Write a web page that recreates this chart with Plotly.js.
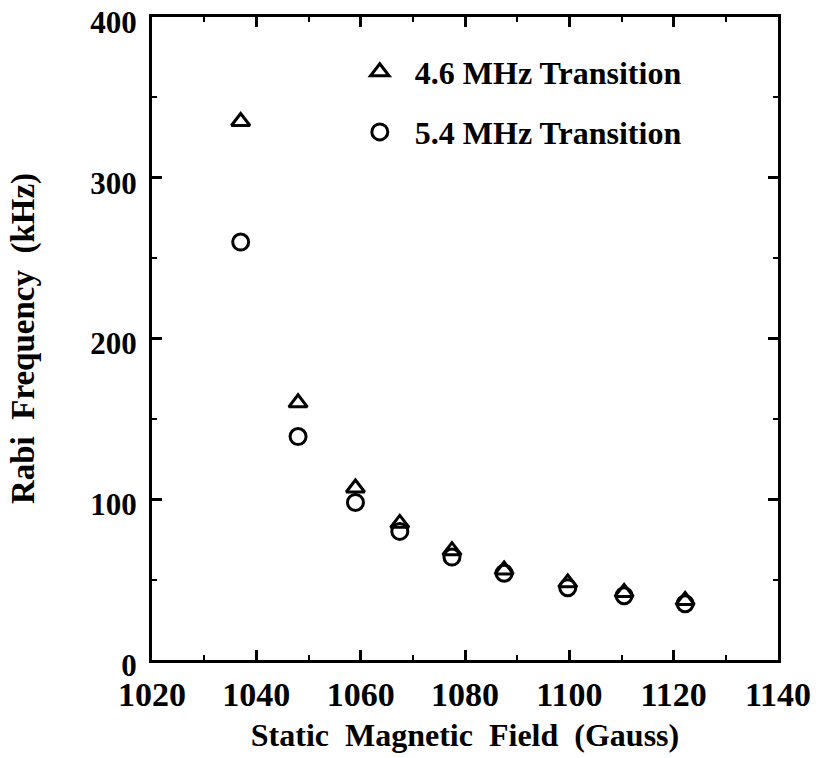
<!DOCTYPE html>
<html>
<head>
<meta charset="utf-8">
<script src="https://cdn.plot.ly/plotly-3.0.1.min.js"></script>
<style>html,body{margin:0;padding:0;background:#fff;}#chart{width:819px;height:758px;}</style>
</head>
<body>
<div id="chart"></div>
<script>
// Static magnetic field (Gauss)
var fieldGauss = [1037, 1048, 1059, 1067.5, 1077.5, 1087.5, 1099.7, 1110.5, 1122.2];
// Rabi frequency (kHz)
var rabi46 = [335, 160, 107, 85, 68, 56, 48, 42, 37];
var rabi54 = [260, 139, 98, 80, 64, 54, 45, 40, 35];
var seriesNames = ['4.6 MHz Transition', '5.4 MHz Transition'];

var FONT = 'Liberation Serif, Times New Roman, serif';

var traces = [
  {
    x: fieldGauss, y: rabi46, name: seriesNames[0], type: 'scatter', mode: 'markers',
    marker: {symbol: 'triangle-up-open', size: 16, color: '#000', line: {width: 3, color: '#000'}},
    legend: 'legend'
  },
  {
    x: fieldGauss, y: rabi54, name: seriesNames[1], type: 'scatter', mode: 'markers',
    marker: {symbol: 'circle-open', size: 16, color: '#000', line: {width: 3, color: '#000'}},
    legend: 'legend2'
  }
];

var axisCommon = {
  showline: true, mirror: 'ticks', linewidth: 3, linecolor: '#000',
  ticks: 'inside', ticklen: 10, tickwidth: 3, tickcolor: '#000',
  showgrid: false, zeroline: false, ticklabeloverflow: 'allow'
};

var layout = {
  width: 819, height: 758,
  margin: {l: 152, r: 41, t: 17, b: 98},
  paper_bgcolor: '#fff', plot_bgcolor: '#fff',
  font: {family: FONT, color: '#000'},
  xaxis: Object.assign({}, axisCommon, {
    range: [1020, 1140], dtick: 20, tick0: 1020,
    minor: {dtick: 10, ticks: 'inside', ticklen: 5, tickwidth: 2, tickcolor: '#000'},
    tickfont: {family: FONT, size: 34, weight: 'bold', color: '#000'},
    ticklabelstandoff: 2,
    title: {text: 'Static\u00a0\u00a0Magnetic\u00a0\u00a0Field\u00a0\u00a0(Gauss)', font: {family: FONT, size: 32, weight: 'bold', color: '#000'}, standoff: 12}
  }),
  yaxis: Object.assign({}, axisCommon, {
    range: [0, 400], dtick: 100, tick0: 0,
    minor: {dtick: 50, ticks: 'inside', ticklen: 5, tickwidth: 2, tickcolor: '#000'},
    tickfont: {family: FONT, size: 31, weight: 'bold', color: '#000'},
    ticklabelstandoff: 6,
    ticklabelshift: 5,
    title: {text: 'Rabi\u00a0\u00a0Frequency\u00a0\u00a0(kHz)', font: {family: FONT, size: 33, weight: 'bold', color: '#000'}, standoff: 46}
  }),
  showlegend: true,
  legend: {
    x: 0.308, y: 0.9145, xanchor: 'left', yanchor: 'middle',
    bgcolor: 'rgba(0,0,0,0)', borderwidth: 0,
    font: {family: FONT, size: 32, weight: 'bold', color: '#000'},
    itemwidth: 60
  },
  legend2: {
    x: 0.308, y: 0.821, xanchor: 'left', yanchor: 'middle',
    bgcolor: 'rgba(0,0,0,0)', borderwidth: 0,
    font: {family: FONT, size: 32, weight: 'bold', color: '#000'},
    itemwidth: 60
  }
};

Plotly.newPlot('chart', traces, layout, {displayModeBar: false, staticPlot: true});
</script>
</body>
</html>
